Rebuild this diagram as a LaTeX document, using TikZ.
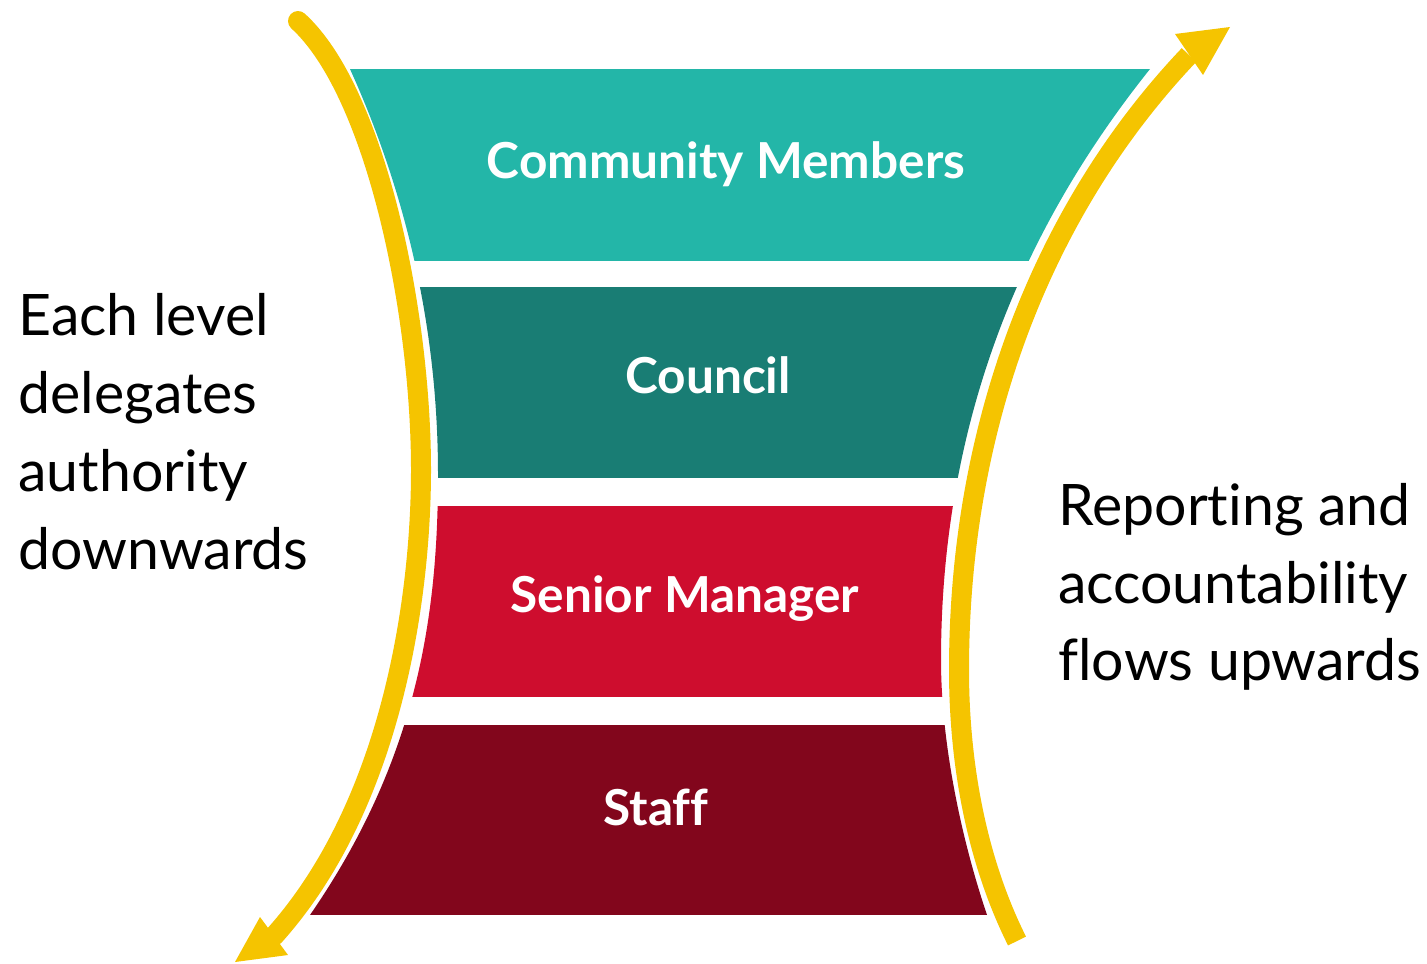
\documentclass[tikz,border=0pt]{standalone}
\usepackage{fontspec}
\setmainfont{Lato}[Ligatures=NoCommon]
\definecolor{cA}{HTML}{23B6A8}
\definecolor{cB}{HTML}{197D74}
\definecolor{cC}{HTML}{CE0D2E}
\definecolor{cD}{HTML}{82061C}
\definecolor{cY}{HTML}{F5C400}
\begin{document}
\begin{tikzpicture}[x=0.5pt,y=-0.5pt,
  lbl/.style={text=white,font=\bfseries\fontsize{24.8}{29}\selectfont,anchor=base,inner sep=0pt},
  side/.style={text=black,font=\fontsize{28.6}{39}\selectfont,anchor=base west,inner sep=0pt},
  flow/.style={draw=cY,line width=10pt},
  head/.style={fill=cY}]
\useasboundingbox (0,0) rectangle (1427,963);
% bands clipped by the curved funnel outline
\begin{scope}
\clip (350,69) .. controls (411,204) and (438,340) .. (438,475)
  .. controls (438,625) and (413.5,765) .. (310,915)
  -- (987,915) .. controls (960,835) and (941,740) .. (941,660)
  .. controls (941,410) and (1030,219) .. (1150,69) -- cycle;
\fill[cA] (200,69) rectangle (1300,261);
\fill[cB] (200,287) rectangle (1300,478);
\fill[cC] (200,506) rectangle (1300,697);
\fill[cD] (200,725) rectangle (1300,915);
\end{scope}
\node[lbl] (community) at (726,178) {Community Members};
\node[lbl] (council) at (708,393) {Council};
\node[lbl] (senior) at (685,612) {Senior Manager};
\node[lbl] (staff) at (656,825) {Staff};
% downward arrow (left)
\coordinate (lstart) at (298,21);
\coordinate (lend) at (274,936);
\coordinate (ltip) at (235,962);
\draw[flow,line cap=round] (lstart) .. controls (375,91) and (421,310) .. (421,470)
  .. controls (421,600) and (391,806) .. (lend);
\fill[head] (ltip) -- (260,917) -- (288,955) -- cycle;
% upward arrow (right)
\coordinate (rstart) at (1017,941);
\coordinate (rend) at (1189,55);
\coordinate (rtip) at (1230,27);
\draw[flow] (rstart) .. controls (972,851) and (959,750) .. (959,670)
  .. controls (959,420) and (1046.5,205) .. (rend);
\fill[head] (rtip) -- (1175,34) -- (1203,75) -- cycle;
% side texts
\node[side] (l1) at (18,335) {Each level};
\node[side] (l2) at (18,413) {delegates};
\node[side] (l3) at (18,491) {authority};
\node[side] (l4) at (18,569) {downwards};
\node[side] (r1) at (1058,525) {Reporting and};
\node[side] (r2) at (1058,603) {accountability};
\node[side] (r3) at (1058,680) {flows upwards};
\end{tikzpicture}
\end{document}
